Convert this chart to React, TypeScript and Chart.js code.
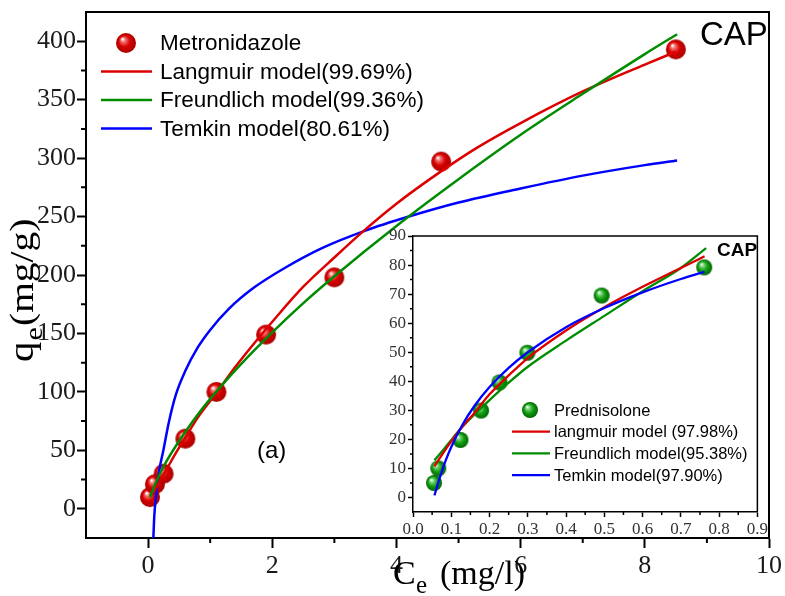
import { useEffect, useRef } from "react";
import { Chart, registerables } from "chart.js";
Chart.register(...registerables);

// ---------- Main panel: Metronidazole ----------
const metroCe = [0.03, 0.11, 0.25, 0.6, 1.1, 1.9, 3.0, 4.72, 8.5];
const metroQe = [10, 21, 30, 60, 100, 149, 198, 297, 393];

const langCe = [0.03, 0.1, 0.2, 0.3, 0.45, 0.6, 0.8, 1.1, 1.4, 1.7, 2.0, 2.5, 3.0, 3.5, 4.0, 4.7, 5.3, 6.0, 7.0, 8.0, 8.5];
const langQe = [11, 15, 25, 34, 48, 61, 78, 99, 121, 141, 160, 190, 215, 239, 261, 288, 309, 330, 357, 380, 391];

const freundCe = [0.03, 0.1, 0.2, 0.3, 0.5, 0.75, 1.0, 1.5, 2.0, 2.5, 3.0, 4.0, 5.0, 6.0, 7.0, 8.0, 8.52];
const freundQe = [10, 19, 31, 41, 58, 77, 94, 124, 151, 176, 199, 242, 282, 320, 355, 389, 406];

const temkinCe = [0.085, 0.1, 0.13, 0.18, 0.25, 0.33, 0.45, 0.6, 0.8, 1.0, 1.3, 1.7, 2.2, 2.8, 3.5, 4.2, 5.0, 6.0, 7.0, 8.0, 8.52];
const temkinQe = [-25, -6, 12, 33, 51, 73, 98, 118, 138, 153, 171, 189, 206, 223, 238, 250, 262, 274, 285, 294, 298];

const mainLegend = ["Metronidazole", "Langmuir model(99.69%)", "Freundlich model(99.36%)", "Temkin model(80.61%)"];

// ---------- Inset: Prednisolone ----------
const predCe = [0.055, 0.066, 0.124, 0.178, 0.226, 0.299, 0.493, 0.761];
const predQe = [5, 10, 19.8, 29.9, 39.6, 49.8, 69.5, 79.2];

const inLangCe = [0.056, 0.08, 0.1, 0.13, 0.16, 0.2, 0.25, 0.3, 0.4, 0.5, 0.6, 0.7, 0.762];
const inLangQe = [10.7, 15.5, 19.3, 24.5, 29, 35.5, 42, 48, 57.5, 65.5, 72.5, 79, 83];

const inFreundCe = [0.056, 0.08, 0.1, 0.13, 0.16, 0.2, 0.25, 0.3, 0.4, 0.5, 0.6, 0.7, 0.766];
const inFreundQe = [12.8, 16.5, 19.8, 24.5, 28.5, 33.5, 39.5, 45, 54, 62.5, 71, 79, 85.8];

const inTemkinCe = [0.056, 0.07, 0.085, 0.1, 0.13, 0.16, 0.2, 0.25, 0.3, 0.4, 0.5, 0.6, 0.7, 0.762];
const inTemkinQe = [0.7, 6.8, 12.6, 17.4, 25.2, 31.4, 38, 44.6, 50, 58.6, 65.2, 70.6, 75.2, 77.7];

const insetLegend = ["Prednisolone", "langmuir model (97.98%)", "Freundlich model(95.38%)", "Temkin model(97.90%)"];

const mainXMinor = [1, 3, 5, 7, 9];
const mainYMinor = [25, 75, 125, 175, 225, 275, 325, 375];
const insetXMinor = [0.05, 0.15, 0.25, 0.35, 0.45, 0.55, 0.65, 0.75, 0.85];
const insetYMinor = [5, 15, 25, 35, 45, 55, 65, 75, 85];

const RED = "#dc0000";
const GREEN = "#008c00";
const BLUE = "#0000ff";
const SERIF = '"Liberation Serif", "Times New Roman", serif';
const SANS = '"Liberation Sans", Arial, sans-serif';

const zip = (xs: number[], ys: number[]) => xs.map((x, i) => ({ x, y: ys[i] }));

function makeSphere(r: number, light: string, base: string, dark: string) {
  const c = document.createElement("canvas");
  const s = Math.ceil(r * 2) + 2;
  c.width = s;
  c.height = s;
  const ctx = c.getContext("2d")!;
  const cx = s / 2, cy = s / 2;
  const g = ctx.createRadialGradient(cx - r * 0.35, cy - r * 0.4, r * 0.04, cx, cy, r);
  g.addColorStop(0, "#ffffff");
  g.addColorStop(0.2, light);
  g.addColorStop(0.55, base);
  g.addColorStop(1, dark);
  ctx.fillStyle = g;
  ctx.beginPath();
  ctx.arc(cx, cy, r, 0, Math.PI * 2);
  ctx.fill();
  return c;
}

function minorTicks(xVals: number[], yVals: number[], len: number, width: number) {
  return {
    id: "minorTicks",
    afterDraw(chart: any) {
      const { ctx, chartArea, scales } = chart;
      ctx.save();
      ctx.strokeStyle = "#000";
      ctx.lineWidth = width;
      ctx.beginPath();
      xVals.forEach((v) => {
        const px = scales.x.getPixelForValue(v);
        ctx.moveTo(px, chartArea.bottom);
        ctx.lineTo(px, chartArea.bottom + len);
      });
      yVals.forEach((v) => {
        const py = scales.y.getPixelForValue(v);
        ctx.moveTo(chartArea.left, py);
        ctx.lineTo(chartArea.left - len, py);
      });
      ctx.stroke();
      ctx.restore();
    },
  };
}

function boxPlugin(width: number, fillWhite: boolean) {
  return {
    id: "box",
    beforeDraw(chart: any) {
      if (!fillWhite) return;
      const { ctx, chartArea: a } = chart;
      ctx.save();
      ctx.fillStyle = "#fff";
      ctx.fillRect(a.left, a.top, a.right - a.left, a.bottom - a.top);
      ctx.restore();
    },
    afterDraw(chart: any) {
      const { ctx, chartArea: a } = chart;
      ctx.save();
      ctx.strokeStyle = "#000";
      ctx.lineWidth = width;
      ctx.beginPath();
      ctx.moveTo(a.left, a.top);
      ctx.lineTo(a.right, a.top);
      ctx.lineTo(a.right, a.bottom);
      ctx.stroke();
      ctx.restore();
    },
  };
}

function legendPlugin(
  labels: string[],
  sphere: HTMLCanvasElement,
  colors: string[],
  cfg: { markerX: number; lineX0: number; lineX1: number; textX: number; y0: number; dy: number; font: string; lw: number }
) {
  return {
    id: "customLegend",
    afterDraw(chart: any) {
      const ctx = chart.ctx;
      ctx.save();
      ctx.font = cfg.font;
      ctx.fillStyle = "#000";
      ctx.textBaseline = "middle";
      ctx.textAlign = "left";
      labels.forEach((lab, i) => {
        const y = cfg.y0 + i * cfg.dy;
        if (i === 0) {
          ctx.drawImage(sphere, cfg.markerX - sphere.width / 2, y - sphere.height / 2);
        } else {
          ctx.strokeStyle = colors[i - 1];
          ctx.lineWidth = cfg.lw;
          ctx.beginPath();
          ctx.moveTo(cfg.lineX0, y);
          ctx.lineTo(cfg.lineX1, y);
          ctx.stroke();
        }
        ctx.fillText(lab, cfg.textX, y + 1);
      });
      ctx.restore();
    },
  };
}

export default function App() {
  const mainRef = useRef<HTMLCanvasElement>(null);
  const insetRef = useRef<HTMLCanvasElement>(null);

  useEffect(() => {
    const redSphere = makeSphere(10, "#f27070", "#d80000", "#a80000");
    const greenSphere = makeSphere(8, "#80d880", "#14a014", "#006400");

    const lineDs = (label: string, xs: number[], ys: number[], color: string, lw: number) => ({
      label,
      data: zip(xs, ys),
      showLine: true,
      borderColor: color,
      borderWidth: lw,
      pointRadius: 0,
      pointHoverRadius: 0,
      fill: false,
      cubicInterpolationMode: "monotone" as const,
    });

    const mainTitles = {
      id: "mainTitles",
      afterDraw(chart: any) {
        const ctx = chart.ctx;
        ctx.save();
        ctx.fillStyle = "#000";
        ctx.textBaseline = "alphabetic";
        ctx.textAlign = "left";
        // x title
        ctx.font = `34px ${SERIF}`;
        ctx.fillText("C", 393, 584);
        ctx.font = `25px ${SERIF}`;
        ctx.fillText("e", 416, 593);
        ctx.font = `34px ${SERIF}`;
        ctx.fillText("(mg/l)", 440, 584);
        // y title (rotated, slightly stretched along its length)
        ctx.translate(33, 362);
        ctx.rotate(-Math.PI / 2);
        ctx.scale(1.16, 1);
        ctx.font = `35px ${SERIF}`;
        ctx.fillText("q", 0, 0);
        const qw = ctx.measureText("q").width;
        ctx.font = `26px ${SERIF}`;
        ctx.fillText("e", qw + 1, 9);
        const ew = ctx.measureText("e").width;
        ctx.font = `34px ${SERIF}`;
        ctx.fillText("(mg/g)", qw + ew + 2, 0);
        ctx.setTransform(1, 0, 0, 1, 0, 0);
        // annotations
        ctx.font = `33px ${SANS}`;
        ctx.fillText("CAP", 700, 45);
        ctx.font = `24px ${SANS}`;
        ctx.fillText("(a)", 257, 458);
        ctx.restore();
      },
    };

    const main = new Chart(mainRef.current!, {
      type: "scatter",
      data: {
        datasets: [
          lineDs(mainLegend[2], freundCe, freundQe, GREEN, 2.5),
          lineDs(mainLegend[1], langCe, langQe, RED, 2.5),
          lineDs(mainLegend[3], temkinCe, temkinQe, BLUE, 2.5),
          {
            label: mainLegend[0],
            data: zip(metroCe, metroQe),
            pointStyle: redSphere as any,
            pointRadius: 10,
            pointHoverRadius: 10,
            showLine: false,
          },
        ],
      },
      options: {
        animation: false,
        responsive: false,
        devicePixelRatio: 1,
        events: [],
        layout: { padding: { left: 0, top: 12, right: 15, bottom: 0 }, autoPadding: false } as any,
        plugins: { legend: { display: false }, tooltip: { enabled: false } },
        scales: {
          x: {
            type: "linear",
            min: -1,
            max: 10,
            ticks: {
              stepSize: 1,
              autoSkip: false,
              maxRotation: 0,
              padding: 3,
              color: "#1a1a1a",
              font: { family: SERIF, size: 26 },
              callback: (v: any) => (v >= 0 && Math.round(v) % 2 === 0 ? String(Math.round(v)) : null),
            },
            grid: { drawOnChartArea: false, tickLength: 10, tickWidth: 2, tickColor: "#000" },
            border: { color: "#000", width: 2 },
            afterFit: (s: any) => {
              s.height = 58;
            },
          },
          y: {
            type: "linear",
            min: -25,
            max: 425,
            ticks: {
              stepSize: 25,
              autoSkip: false,
              padding: 1,
              color: "#1a1a1a",
              font: { family: SERIF, size: 26, lineHeight: 0.6 },
              callback: (v: any) => {
                const r = Math.round(v);
                return r >= 0 && r <= 400 && r % 50 === 0 ? String(r) : null;
              },
            },
            grid: { drawOnChartArea: false, tickLength: 9, tickWidth: 2, tickColor: "#000" },
            border: { color: "#000", width: 2 },
            afterFit: (s: any) => {
              s.width = 86;
            },
          },
        },
      },
      plugins: [
        boxPlugin(2, false),
        minorTicks(mainXMinor, mainYMinor, 5, 2),
        legendPlugin(mainLegend, redSphere, [RED, GREEN, BLUE], {
          markerX: 126,
          lineX0: 101,
          lineX1: 152,
          textX: 160,
          y0: 43,
          dy: 28.5,
          font: `22.5px ${SANS}`,
          lw: 2.5,
        }),
        mainTitles,
      ],
    });

    const insetNotes = {
      id: "insetNotes",
      afterDraw(chart: any) {
        const ctx = chart.ctx;
        ctx.save();
        ctx.fillStyle = "#000";
        ctx.font = `bold 19px ${SANS}`;
        ctx.textBaseline = "alphabetic";
        ctx.fillText("CAP", 347, 30);
        ctx.restore();
      },
    };

    const inset = new Chart(insetRef.current!, {
      type: "scatter",
      data: {
        datasets: [
          lineDs(insetLegend[3], inTemkinCe, inTemkinQe, BLUE, 2.3),
          lineDs(insetLegend[1], inLangCe, inLangQe, RED, 2.3),
          lineDs(insetLegend[2], inFreundCe, inFreundQe, GREEN, 2.3),
          {
            label: insetLegend[0],
            data: zip(predCe, predQe),
            pointStyle: greenSphere as any,
            pointRadius: 8,
            pointHoverRadius: 8,
            showLine: false,
          },
        ],
      },
      options: {
        animation: false,
        responsive: false,
        devicePixelRatio: 1,
        events: [],
        layout: { padding: { left: 0, top: 10, right: 8, bottom: 0 }, autoPadding: false } as any,
        plugins: { legend: { display: false }, tooltip: { enabled: false } },
        scales: {
          x: {
            type: "linear",
            min: 0,
            max: 0.9,
            ticks: {
              stepSize: 0.1,
              autoSkip: false,
              maxRotation: 0,
              padding: 2,
              color: "#333",
              font: { family: SERIF, size: 17 },
              callback: (v: any) => (Math.round(v * 10) / 10).toFixed(1),
            },
            grid: { drawOnChartArea: false, tickLength: 5, tickWidth: 1.5, tickColor: "#000" },
            border: { color: "#000", width: 1.5 },
            afterFit: (s: any) => {
              s.height = 34;
            },
          },
          y: {
            type: "linear",
            min: -5,
            max: 90,
            ticks: {
              stepSize: 5,
              autoSkip: false,
              padding: 2,
              color: "#333",
              font: { family: SERIF, size: 17, lineHeight: 0.8 },
              callback: (v: any) => {
                const r = Math.round(v);
                return r >= 0 && r % 10 === 0 ? String(r) : null;
              },
            },
            grid: { drawOnChartArea: false, tickLength: 5, tickWidth: 1.5, tickColor: "#000" },
            border: { color: "#000", width: 1.5 },
            afterFit: (s: any) => {
              s.width = 43;
            },
          },
        },
      },
      plugins: [
        boxPlugin(1.5, true),
        minorTicks(insetXMinor, insetYMinor, 3, 1.5),
        legendPlugin(insetLegend, greenSphere, [RED, GREEN, BLUE], {
          markerX: 160,
          lineX0: 142,
          lineX1: 180,
          textX: 184,
          y0: 184,
          dy: 21.7,
          font: `16.5px ${SANS}`,
          lw: 2.3,
        }),
        insetNotes,
      ],
    });

    return () => {
      main.destroy();
      inset.destroy();
    };
  }, []);

  return (
    <div style={{ position: "fixed", left: 0, top: 0, width: 785, height: 596, background: "#fff", overflow: "hidden" }}>
      <canvas ref={mainRef} width={785} height={596} style={{ position: "absolute", left: 0, top: 0, width: 785, height: 596 }} />
      <canvas ref={insetRef} width={400} height={320} style={{ position: "absolute", left: 370, top: 226, width: 400, height: 320 }} />
    </div>
  );
}
